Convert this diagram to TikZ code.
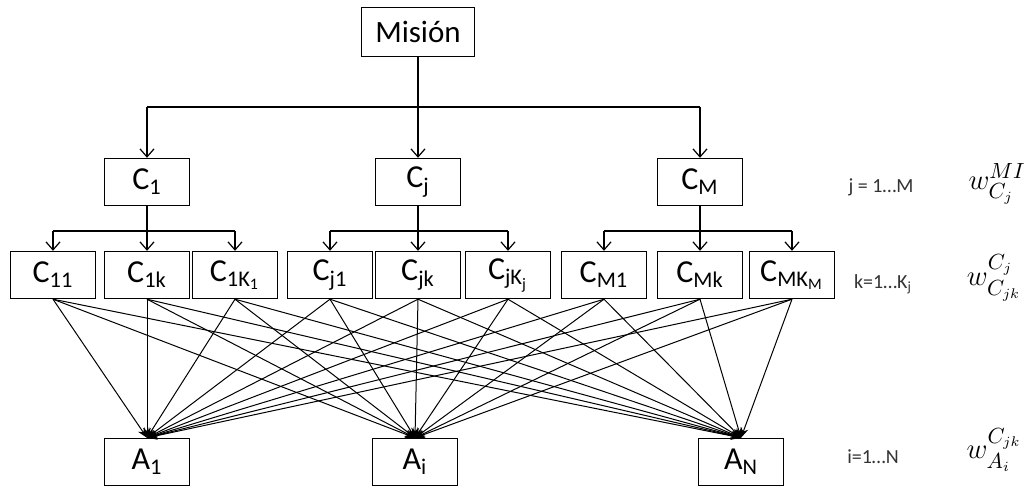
\documentclass[tikz,border=0pt]{standalone}
\usepackage{fontspec,amsmath}
\setmainfont{Carlito}
\usetikzlibrary{arrows.meta,calc}

\tikzset{
  blk/.style={draw,rectangle,line width=0.7pt,minimum width=42.5pt,minimum height=23.5pt,inner sep=0pt,font=\fontsize{16}{18}\selectfont},
  barb/.style={-{Straight Barb[length=4pt,width=7pt]},line width=0.6pt},
  fan/.style={-{Stealth[length=5pt,width=4pt]},line width=0.5pt},
  idx/.style={font=\fontsize{10}{12}\selectfont,text=black!80},
  wgt/.style={font=\fontsize{15}{17}\selectfont}
}

\begin{document}
\begin{tikzpicture}[x=0.5pt,y=-0.5pt]
\useasboundingbox (0,0) rectangle (1025,488);
\node[blk,minimum width=56.5pt,minimum height=24.5pt,font=\fontsize{15.5}{18}\selectfont] (MIS) at (418,32) {Misión};

% criterios
\node[blk] (C1) at (147,182) {C$_{\text{1}}$};
\node[blk] (Cj) at (418,182) {C$_{\text{j}}$};
\node[blk] (CM) at (700,182) {C$_{\text{M}}$};

% subcriterios
\node[blk] (C11) at (53,275) {C$_{\text{11}}$};
\node[blk] (C1k) at (147,275) {C$_{\text{1k}}$};
\node[blk] (C1K) at (235,275) {C$_{\text{1K}_{\text{1}}}$};
\node[blk] (Cj1) at (330,275) {C$_{\text{j1}}$};
\node[blk] (Cjk) at (418,275) {C$_{\text{jk}}$};
\node[blk] (CjK) at (508,275) {C$_{\text{jK}_{\text{j}}}$};
\node[blk] (CM1) at (604,275) {C$_{\text{M1}}$};
\node[blk] (CMk) at (700,275) {C$_{\text{Mk}}$};
\node[blk] (CMK) at (792,275) {C$_{\text{MK}_{\text{M}}}$};

% alternativas
\node[blk] (A1) at (147,462) {A$_{\text{1}}$};
\node[blk] (Ai) at (415,462) {A$_{\text{i}}$};
\node[blk] (AN) at (741,462) {A$_{\text{N}}$};

% indices y pesos
\node[idx] (LJ) at (881,187) {j = 1…M};
\node[idx] (LK) at (883,284) {k=1…K$_{\text{j}}$};
\node[idx] (LI) at (873,457) {i=1…N};
\node[wgt] (WJ) at (997,184) {$w^{MI}_{C_j}$};
\node[wgt] (WK) at (994,278) {$w^{C_j}_{C_{jk}}$};
\node[wgt] (WI) at (994,450) {$w^{C_{jk}}_{A_i}$};

\coordinate (bus) at (0,107);
\coordinate (sbus) at (0,231);
\draw[barb] (MIS.south) -- (Cj.north);
\draw[line width=0.6pt] (C1.north |- bus) -- (CM.north |- bus);
\draw[barb] (C1.north |- bus) -- (C1.north);
\draw[barb] (CM.north |- bus) -- (CM.north);

\foreach \p/\l/\m/\r in {C1/C11/C1k/C1K, Cj/Cj1/Cjk/CjK, CM/CM1/CMk/CMK} {
  \draw[barb] (\p.south) -- (\m.north);
  \draw[line width=0.6pt] (\l.north |- sbus) -- (\r.north |- sbus);
  \draw[barb] (\l.north |- sbus) -- (\l.north);
  \draw[barb] (\r.north |- sbus) -- (\r.north);
}

\foreach \s in {C11,C1k,C1K,Cj1,Cjk,CjK,CM1,CMk,CMK}
  \foreach \t in {A1,Ai,AN}
    \draw[fan] (\s.south) -- (\t.north);
\end{tikzpicture}
\end{document}
